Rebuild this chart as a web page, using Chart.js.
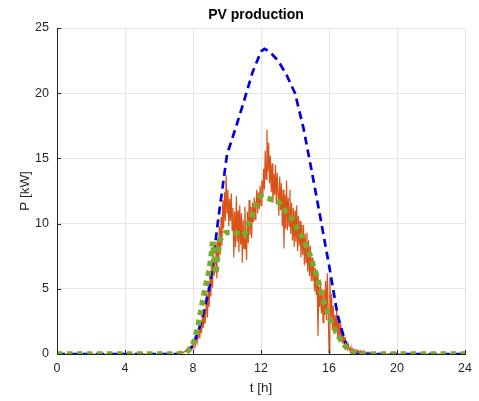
<!DOCTYPE html>
<html>
<head>
<meta charset="utf-8">
<script src="https://cdn.jsdelivr.net/npm/chart.js@4.4.0/dist/chart.umd.min.js"></script>
<style>
  html, body { margin: 0; padding: 0; background: #ffffff; }
  #c { display: block; }
</style>
</head>
<body>
<canvas id="c" width="479" height="401"></canvas>
<script>
// ---------- data ----------
const chartTitle = "PV production";
const xTitle = "t [h]";
const yTitle = "P [kW]";
const xTicks = [0, 4, 8, 12, 16, 20, 24];
const yTicks = [0, 5, 10, 15, 20, 25];

// clear-sky / forecast profile (blue dashed)
const blueTimes  = [0, 7, 7.5, 8, 8.5, 9, 9.5, 10, 10.5, 11, 11.5, 12, 12.2, 12.5, 13, 13.5, 14, 14.5, 15, 15.5, 16, 16.5, 17, 17.3, 17.6, 24];
const blueValues = [0, 0, 0.1, 0.6, 2.5, 5.3, 10.5, 15.3, 17.3, 19.4, 21.6, 23.2, 23.4, 23.2, 22.5, 21.4, 20.0, 17.3, 13.9, 10.4, 6.8, 3.0, 0.7, 0.15, 0, 0];

// measured production (orange), sampled every 0.05 h from 7.00 h to 19.00 h
const orangeStart = 7.0;
const orangeStep = 0.05;
const orangeValues = [
  0, 0.02, 0.05, 0.03, 0.08, 0.1, 0.06, 0.12, 0.15, 0.1,
  0.2, 0.25, 0.18, 0.3, 0.4, 0.28, 0.5, 0.35, 0.6, 0.45,
  0.8, 0.55, 1.1, 0.7, 1.5, 0.9, 1.3, 1.9, 1.2, 2.4,
  1.6, 2.9, 2.0, 3.4, 2.3, 3.0, 4.6, 2.8, 5.2, 3.6,
  6.0, 4.4, 7.2, 5.1, 8.0, 6.0, 7.0, 8.6, 5.8, 8.9,
  7.2, 9.8, 7.6, 10.5, 8.3, 11.8, 9.6, 12.4, 10.2, 13.7,
  10.8, 12.6, 9.8, 11.9, 10.2, 12.3, 9.5, 11.2, 7.4, 10.9,
  8.2, 12.1, 8.6, 11.0, 7.8, 11.4, 8.4, 10.8, 7.0, 10.3,
  8.1, 11.3, 8.8, 7.2, 10.9, 8.5, 11.8, 9.1, 11.3, 8.9,
  11.6, 10.1, 12.0, 10.3, 11.2, 12.6, 10.8, 12.4, 11.1, 12.9,
  11.4, 13.3, 12.0, 14.2, 12.6, 15.6, 13.4, 17.2, 14.0, 16.2,
  13.1, 15.2, 12.4, 14.6, 11.6, 13.8, 12.2, 14.5, 11.5, 13.9,
  12.4, 10.6, 13.6, 11.0, 13.1, 9.8, 12.6, 8.1, 12.2, 9.6,
  13.3, 9.5, 12.0, 9.8, 12.6, 9.2, 11.6, 8.7, 11.2, 8.2,
  11.0, 8.6, 11.4, 7.9, 10.6, 8.3, 10.2, 7.4, 9.9, 7.6,
  9.9, 6.8, 9.2, 7.0, 9.3, 6.3, 8.7, 6.0, 8.3, 5.6,
  7.4, 5.6, 6.9, 4.8, 6.6, 4.5, 6.1, 1.4, 5.2, 3.6,
  5.5, 3.1, 4.6, 2.4, 4.9, 3.0, 5.6, 2.6, 6.2, 3.3,
  0.1, 5.8, 2.8, 4.6, 1.9, 3.7, 1.6, 3.0, 1.8, 3.4,
  1.3, 2.8, 1.1, 2.3, 0.9, 1.9, 0.8, 1.5, 0.6, 1.3,
  0.5, 1.0, 0.4, 0.7, 0.3, 0.45, 0.15, 0.4, 0.1, 0.35,
  0.12, 0.3, 0.08, 0.28, 0.1, 0.25, 0.05, 0.22, 0.08, 0.2,
  0.05, 0.18, 0.04, 0.15, 0.03, 0.12, 0.05, 0.1, 0.02, 0.08,
  0.03, 0.06, 0.01, 0.05, 0.02, 0.03, 0, 0.02, 0, 0.01,
  0
];

// smoothed production (green dotted)
const greenTimes  = [0, 7, 7.6, 7.9, 8.1, 8.3, 8.5, 8.7, 8.9, 9.05, 9.15, 9.25, 9.35, 9.45, 9.6, 9.9, 10.4, 11.0, 11.3, 11.7, 12.0, 12.5, 13.0, 13.4, 13.8, 14.1, 14.4, 14.65, 14.9, 15.1, 15.3, 15.45, 15.6, 15.8, 16.0, 16.2, 16.5, 16.8, 17.2, 17.6, 18, 24];
const greenValues = [0, 0, 0.1, 0.5, 1.1, 2.2, 3.6, 5.0, 6.1, 7.3, 8.6, 7.3, 6.1, 7.5, 8.8, 9.3, 9.35, 9.1, 10.1, 11.4, 12.1, 11.9, 11.7, 11.0, 10.4, 9.7, 9.0, 8.3, 7.5, 6.7, 5.9, 5.2, 4.4, 3.6, 2.9, 2.2, 1.5, 0.8, 0.25, 0.05, 0, 0];

// ---------- build datasets ----------
const bluePts = blueTimes.map((t, i) => ({ x: t, y: blueValues[i] }));
const greenPts = greenTimes.map((t, i) => ({ x: t, y: greenValues[i] }));
const orangePts = [{ x: 0, y: 0 }];
orangeValues.forEach((v, i) => orangePts.push({ x: +(orangeStart + i * orangeStep).toFixed(2), y: v }));
orangePts.push({ x: 24, y: 0 });

const FONT = "'Liberation Sans', Arial, Helvetica, sans-serif";
const AX = '#262626';

const PLOT_L = 57, PLOT_R = 471, PLOT_T = 28, PLOT_B = 354;
const W = 479, H = 401;

const titlePlugin = {
  id: 'mtitle',
  afterDraw(chart) {
    const ctx = chart.ctx;
    ctx.save();
    ctx.font = "bold 14px " + FONT;
    ctx.fillStyle = '#000000';
    ctx.textAlign = 'center';
    ctx.textBaseline = 'middle';
    ctx.fillText(chartTitle, 256, 15);
    ctx.restore();
  }
};

const innerTicks = {
  id: 'innerTicks',
  afterDatasetsDraw(chart) {
    const ctx = chart.ctx;
    const a = chart.chartArea;
    const xs = chart.scales.x, ys = chart.scales.y;
    ctx.save();
    ctx.strokeStyle = AX;
    ctx.lineWidth = 1;
    ctx.beginPath();
    xTicks.forEach(v => {
      const px = Math.round(xs.getPixelForValue(v)) + 0.5;
      ctx.moveTo(px, a.bottom);
      ctx.lineTo(px, a.bottom - 4);
    });
    yTicks.forEach(v => {
      const py = Math.round(ys.getPixelForValue(v)) + 0.5;
      ctx.moveTo(a.left, py);
      ctx.lineTo(a.left + 4, py);
    });
    ctx.stroke();
    ctx.restore();
  }
};

new Chart(document.getElementById('c'), {
  type: 'line',
  data: {
    datasets: [
      {
        label: 'forecast',
        data: bluePts,
        borderColor: '#0000e0',
        borderWidth: 2.7,
        borderDash: [8, 5],
        borderCapStyle: 'butt',
        pointRadius: 0,
        tension: 0,
        fill: false,
        order: 1
      },
      {
        label: 'measured',
        data: orangePts,
        borderColor: '#D95319',
        borderWidth: 1.2,
        pointRadius: 0,
        tension: 0,
        fill: false,
        order: 2
      },
      {
        label: 'smoothed',
        data: greenPts,
        borderColor: '#77AC30',
        borderWidth: 5.5,
        borderDash: [5.5, 4.5],
        borderCapStyle: 'butt',
        pointRadius: 0,
        tension: 0,
        fill: false,
        order: 0
      }
    ]
  },
  options: {
    responsive: false,
    animation: false,
    devicePixelRatio: 1,
    layout: { padding: { left: 0, right: W - PLOT_R, top: PLOT_T, bottom: 0 } },
    plugins: {
      legend: { display: false },
      title: { display: false },
      tooltip: { enabled: false }
    },
    scales: {
      x: {
        type: 'linear',
        min: 0, max: 24,
        afterBuildTicks(scale) { scale.ticks = xTicks.map(v => ({ value: v })); },
        afterFit(scale) { scale.height = H - PLOT_B; },
        ticks: {
          color: AX,
          font: { family: FONT, size: 12.5 },
          padding: 7,
          maxRotation: 0,
          autoSkip: false
        },
        grid: { color: '#e6e6e6', lineWidth: 1, drawTicks: false },
        border: { display: true, color: AX, width: 1 },
        title: {
          display: true,
          text: xTitle,
          color: AX,
          font: { family: FONT, size: 13.5 },
          padding: { top: 0, bottom: 5 }
        }
      },
      y: {
        type: 'linear',
        min: 0, max: 25,
        afterBuildTicks(scale) { scale.ticks = yTicks.map(v => ({ value: v })); },
        afterFit(scale) { scale.width = PLOT_L; },
        ticks: {
          color: AX,
          font: { family: FONT, size: 12.5 },
          padding: 8
        },
        grid: { color: '#e6e6e6', lineWidth: 1, drawTicks: false },
        border: { display: true, color: AX, width: 1 },
        title: {
          display: true,
          text: yTitle,
          color: AX,
          font: { family: FONT, size: 13.5 },
          padding: { top: 17, bottom: 0 }
        }
      }
    }
  },
  plugins: [titlePlugin, innerTicks]
});
</script>
</body>
</html>
